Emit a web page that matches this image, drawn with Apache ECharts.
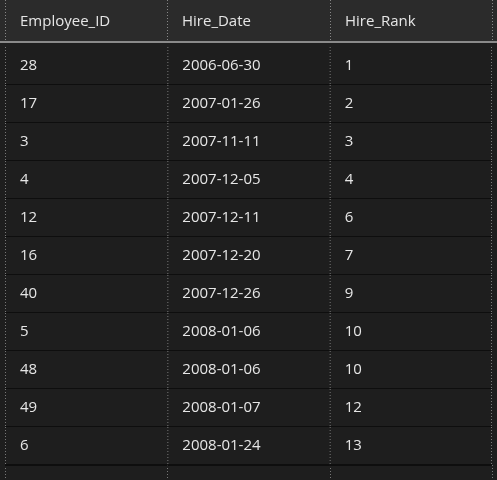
<!DOCTYPE html>
<html>
<head>
<meta charset="utf-8">
<script src="https://cdn.jsdelivr.net/npm/echarts@6/dist/echarts.min.js"></script>
<style>html,body{margin:0;background:#1e1e1e;}#main{width:497px;height:480px;}</style>
</head>
<body>
<div id="main"></div>
<script>
const columns = ["Employee_ID", "Hire_Date", "Hire_Rank"]
const employeeIds = ["28", "17", "3", "4", "12", "16", "40", "5", "48", "49", "6"]
const hireDates = ["2006-06-30", "2007-01-26", "2007-11-11", "2007-12-05", "2007-12-11", "2007-12-20", "2007-12-26", "2008-01-06", "2008-01-06", "2008-01-07", "2008-01-24"]
const hireRanks = ["1", "2", "3", "4", "6", "7", "9", "10", "10", "12", "13"]

const cells = []
employeeIds.forEach((id, i) => {
  cells.push([0, i, id], [1, i, hireDates[i]], [2, i, hireRanks[i]])
})
const font = "15px 'Open Sans', 'Noto Sans', sans-serif"
const myChart = echarts.init(document.getElementById("main"))
const option = {
  backgroundColor: "#1e1e1e",
  animation: false,
  grid: { left: 5, right: 5, top: 47, height: 418 },
  xAxis: { type: "value", min: 0, max: 3, show: false },
  yAxis: { type: "value", min: 0, max: 11, inverse: true, show: false },
  series: [
    {
      type: "custom",
      data: cells,
      renderItem: (params, api) => {
        const c = api.value(0), r = api.value(1)
        const p0 = api.coord([c, r]), p1 = api.coord([c + 1, r + 1])
        const children = [
          { type: "rect", shape: { x: p0[0], y: p0[1], width: p1[0] - p0[0], height: p1[1] - p0[1] },
            style: { fill: "#1e1e1e" } },
          { type: "line", shape: { x1: p0[0], y1: p1[1], x2: p1[0], y2: p1[1] },
            style: { stroke: "#0e0e0e", lineWidth: 2 } },
          { type: "line", shape: { x1: p0[0] + 0.5, y1: p0[1], x2: p0[0] + 0.5, y2: p1[1] },
            style: { stroke: "#777", lineWidth: 1, lineDash: [1, 2] } },
          { type: "text", x: p0[0] + 15, y: (p0[1] + p1[1]) / 2,
            style: { text: cells[params.dataIndex][2], fill: "#e6e6e6", font: font, verticalAlign: "middle" } }
        ]
        if (c === 2) {
          children.push({ type: "line", shape: { x1: p1[0] - 0.5, y1: p0[1], x2: p1[0] - 0.5, y2: p1[1] },
            style: { stroke: "#777", lineWidth: 1, lineDash: [1, 2] } })
        }
        return { type: "group", children: children }
      }
    }
  ],
  graphic: [
    { type: "rect", left: 0, top: 0, shape: { width: 497, height: 41 }, style: { fill: "#2b2b2b" } },
    { type: "rect", left: 0, top: 41, shape: { width: 497, height: 2 }, style: { fill: "#8a8a8a" } },
    ...[5, 167, 330, 492].map(x => ({ type: "line", shape: { x1: x + 0.5, y1: 0, x2: x + 0.5, y2: 41 },
      style: { stroke: "#888", lineWidth: 1, lineDash: [1, 2] } })),
    ...[5, 167, 330, 492].map(x => ({ type: "line", shape: { x1: x + 0.5, y1: 465, x2: x + 0.5, y2: 480 },
      style: { stroke: "#777", lineWidth: 1, lineDash: [1, 2] } })),
    ...columns.map((name, i) => ({ type: "text", left: [20, 182, 345][i], top: 14,
      style: { text: name, fill: "#e6e6e6", font: font } }))
  ]
}
myChart.setOption(option)
window.onresize = () => { myChart.resize() }
</script>
</body>
</html>
